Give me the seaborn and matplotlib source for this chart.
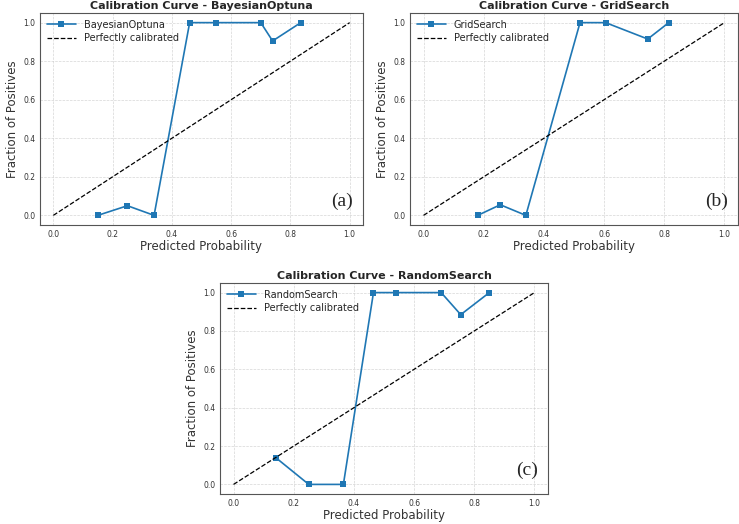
import numpy as np
import pandas as pd
import seaborn as sns
import matplotlib

matplotlib.use("Agg")
import matplotlib.pyplot as plt

# Calibration data.
optuna_x = [0.15, 0.25, 0.34, 0.46, 0.55, 0.70, 0.74, 0.835]
optuna_y = [0.0, 0.05, 0.0, 1.0, 1.0, 1.0, 0.905, 1.0]

grid_x = [0.18, 0.255, 0.34, 0.52, 0.605, 0.745, 0.815]
grid_y = [0.0, 0.055, 0.0, 1.0, 1.0, 0.915, 1.0]

random_x = [0.14, 0.25, 0.365, 0.465, 0.54, 0.69, 0.755, 0.85]
random_y = [0.14, 0.0, 0.0, 1.0, 1.0, 1.0, 0.885, 1.0]

diag = [0.0, 1.0]
ticks = [0.0, 0.2, 0.4, 0.6, 0.8, 1.0]

panels = [
    ("BayesianOptuna", optuna_x, optuna_y, "(a)"),
    ("GridSearch", grid_x, grid_y, "(b)"),
    ("RandomSearch", random_x, random_y, "(c)"),
]

W, H = 739, 524
# axes rectangles in pixels: left, top, right, bottom
boxes = [(40, 13, 363, 225), (410, 13, 738, 225), (220, 283, 548, 494)]

sns.set_style("white")
plt.rcParams["font.family"] = ["DejaVu Sans"]

fig = plt.figure(figsize=(W / 100, H / 100), dpi=100)

for (name, xs, ys, tag), (l, t, r, b) in zip(panels, boxes):
    ax = fig.add_axes([l / W, 1 - b / H, (r - l) / W, (b - t) / H])
    df = pd.DataFrame({"x": xs, "y": ys})
    sns.lineplot(
        data=df,
        x="x",
        y="y",
        marker="s",
        markersize=4.5,
        markeredgewidth=0,
        color="#1f77b4",
        linewidth=1.2,
        label=name,
        ax=ax,
    )
    sns.lineplot(
        x=diag,
        y=diag,
        color="#000000",
        linestyle="--",
        linewidth=0.9,
        label="Perfectly calibrated",
        ax=ax,
    )
    ax.set_xlim(-0.045, 1.045)
    ax.set_ylim(-0.05, 1.05)
    ax.set_xticks(ticks)
    ax.set_yticks(ticks)
    ax.tick_params(labelsize=5.5, length=1.5, width=0.6, pad=2, colors="#333333")
    ax.grid(True, linestyle="--", color="#cccccc", linewidth=0.5, alpha=0.8)
    for s in ax.spines.values():
        s.set_color("#555555")
        s.set_linewidth(0.8)
    ax.set_title("Calibration Curve - {}".format(name), fontsize=8,
                 fontweight="bold", pad=3)
    ax.set_xlabel("Predicted Probability", fontsize=8.5, color="#333333", labelpad=1)
    ax.set_ylabel("Fraction of Positives", fontsize=8.5, color="#333333", labelpad=3)
    ax.legend(loc="upper left", fontsize=7, frameon=False,
              handlelength=3.0, borderaxespad=0.3, labelspacing=0.35)
    ax.text(0.97, 0.07, tag, transform=ax.transAxes, ha="right", va="bottom",
            fontsize=14, family=["Liberation Serif", "DejaVu Serif"])

fig.savefig("out.png", dpi=100)
